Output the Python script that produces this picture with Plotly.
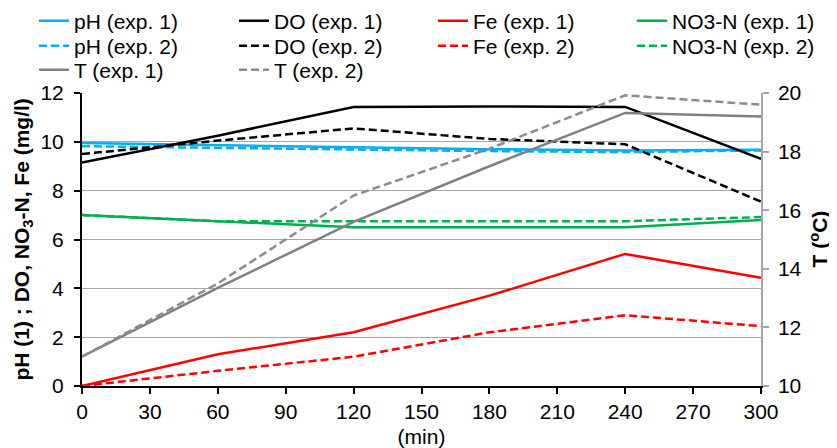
import plotly.graph_objects as go

t_min = [0, 60, 120, 180, 240, 300]
ph1 = [9.95, 9.85, 9.78, 9.7, 9.65, 9.68]
ph2 = [9.82, 9.75, 9.68, 9.62, 9.58, 9.65]
do1 = [9.15, 10.25, 11.43, 11.45, 11.43, 9.3]
do2 = [9.5, 10.05, 10.55, 10.12, 9.9, 7.55]
fe1 = [0.0, 1.3, 2.2, 3.7, 5.41, 4.43]
fe2 = [0.0, 0.62, 1.2, 2.2, 2.9, 2.45]
no1 = [7.0, 6.75, 6.5, 6.5, 6.5, 6.8]
no2 = [7.0, 6.75, 6.75, 6.75, 6.75, 6.92]
temp1 = [11.0, 13.35, 15.6, 17.5, 19.32, 19.2]
temp2 = [11.0, 13.5, 16.5, 18.1, 19.92, 19.6]

left_title = "<b>pH (1) ; DO, NO<sub>3</sub>-N, Fe (mg/l)</b>"
right_title = "<b>T (<sup>o</sup>C)</b>"
x_title = "(min)"

BLUE = "#00B0F0"
RED = "#FF0000"
GREEN = "#00B050"
GRAY = "#808080"
GRAY2 = "#8C8C8C"
DASH = "8px,4px"

FAM = "Liberation Sans, Arial, sans-serif"
FS = 21
W = 2.5
# page body has an 8px margin, so the figure is drawn 8px in from the window edge
OFF = 8
W_PX, H_PX = 837 - OFF, 448 - OFF
ML, MR, MT, MB = 82 - OFF, 76, 93 - OFF, 62
PLOT_W = W_PX - ML - MR

# legend grid in window pixels: (column line-start x, row centre y)
col_x = [40, 240, 439, 638]
row_y = [21, 46, 70]

fig = go.Figure()
legend_layouts = {}
count = [0]

def add(name, y, color, dash, col, row, axis="y"):
    count[0] += 1
    key = "legend" if count[0] == 1 else f"legend{count[0]}"
    fig.add_trace(go.Scatter(x=t_min, y=y, name=name, mode="lines",
                             line=dict(color=color, width=W, dash=dash),
                             yaxis=axis, legend=key))
    legend_layouts[key] = dict(
        x=(col_x[col] - OFF - 6) / W_PX, y=1 - (row_y[row] - OFF) / H_PX,
        xref="container", yref="container",
        xanchor="left", yanchor="middle",
        orientation="v", bgcolor="rgba(0,0,0,0)", borderwidth=0,
        itemwidth=30, font=dict(family=FAM, size=FS, color="black"),
    )

add("pH (exp. 1)", ph1, BLUE, "solid", 0, 0)
add("pH (exp. 2)", ph2, BLUE, DASH, 0, 1)
add("DO (exp. 1)", do1, "black", "solid", 1, 0)
add("DO (exp. 2)", do2, "black", DASH, 1, 1)
add("Fe (exp. 1)", fe1, RED, "solid", 2, 0)
add("Fe (exp. 2)", fe2, RED, DASH, 2, 1)
add("NO3-N (exp. 1)", no1, GREEN, "solid", 3, 0)
add("NO3-N (exp. 2)", no2, GREEN, DASH, 3, 1)
add("T (exp. 1)", temp1, GRAY, "solid", 0, 2, "y2")
add("T (exp. 2)", temp2, GRAY2, DASH, 1, 2, "y2")

fig.update_layout(
    width=W_PX, height=H_PX,
    margin=dict(l=ML, r=MR, t=MT, b=MB, autoexpand=False),
    paper_bgcolor="white", plot_bgcolor="white",
    font=dict(family=FAM, size=FS, color="black"),
    showlegend=True,
    xaxis=dict(range=[0, 300], tickvals=list(range(0, 301, 30)),
               showline=True, linecolor="black", linewidth=2,
               ticks="outside", tickcolor="black", tickwidth=2, ticklen=6,
               showgrid=False, zeroline=False,
               title=dict(text=x_title, font=dict(size=FS)),
               tickfont=dict(size=FS)),
    yaxis=dict(range=[0, 12], tickvals=list(range(0, 13, 2)),
               showline=True, linecolor="black", linewidth=2,
               ticks="outside", tickcolor="black", tickwidth=2, ticklen=6,
               ticklabelstandoff=6,
               showgrid=True, gridcolor="#A6A6A6", gridwidth=1, zeroline=False,
               tickfont=dict(size=FS)),
    yaxis2=dict(range=[10, 20], tickvals=list(range(10, 21, 2)),
                overlaying="y", side="right", anchor="x",
                showline=True, linecolor="#A6A6A6", linewidth=1.5,
                ticks="outside", tickcolor="#A6A6A6", tickwidth=1.5, ticklen=6,
                ticklabelstandoff=5,
                showgrid=False, zeroline=False,
                tickfont=dict(size=FS)),
    annotations=[
        dict(text=left_title, textangle=-90, showarrow=False,
             xref="paper", yref="paper", x=(22 - 82) / PLOT_W, y=0.5,
             xanchor="center", yanchor="middle", font=dict(size=FS)),
        dict(text=right_title, textangle=-90, showarrow=False,
             xref="paper", yref="paper", x=(818 - 82) / PLOT_W, y=0.5,
             xanchor="center", yanchor="middle", font=dict(size=FS)),
    ],
    **legend_layouts,
)

fig.write_html("out.html")
